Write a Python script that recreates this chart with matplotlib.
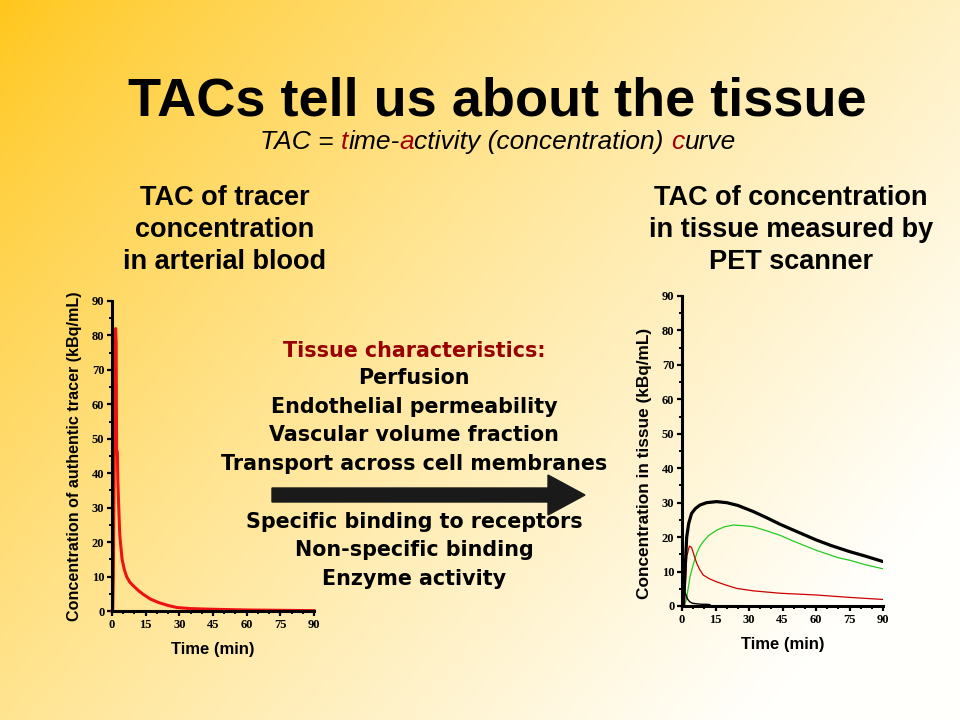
import numpy as np
import matplotlib
matplotlib.use("Agg")
import matplotlib.pyplot as plt
from matplotlib.patches import FancyArrow
from matplotlib.ticker import MultipleLocator

# ---------------- data ----------------
# arterial blood TAC (left panel)
t_blood = [0, 0.3, 0.6, 1.0, 1.4, 1.6, 1.85, 1.95, 2.05, 2.4, 2.6, 2.9, 3.4, 3.6,
           4.5, 5.5, 6.5, 8, 10, 12, 14, 17, 21, 25, 29, 35, 45, 60, 75, 90]
c_blood = [0, 0, 10, 45, 75, 82, 78, 60, 47, 46, 38, 32, 23, 21,
           15, 12, 10, 8.3, 7, 5.8, 4.8, 3.5, 2.4, 1.6, 1.0, 0.7, 0.5, 0.3, 0.2, 0.1]

# tissue TAC (right panel)
t_total = [0, 0.5, 1, 1.5, 2.1, 3, 4.3, 6, 8, 11, 15.5, 20, 25, 32, 38, 44,
           50, 60, 67, 75, 82, 90]
c_total = [0, 0, 5, 12, 20, 24, 26.9, 28.3, 29.3, 30, 30.3, 30, 29.2, 27.4, 25.6, 23.7,
           22, 19.2, 17.5, 15.8, 14.5, 12.9]

t_green = [0, 1, 2, 3.6, 5, 6.6, 8, 9.5, 12, 15.5, 19, 23, 28, 32, 38, 44,
           50, 60, 70, 75, 82, 90]
c_green = [0, 0, 2, 8.5, 12, 15.3, 17.3, 18.7, 20.5, 22, 23, 23.5, 23.3, 23, 21.8, 20.5,
           18.8, 16.2, 14, 13.3, 12, 10.8]

t_red = [0, 1.1, 2.1, 3.3, 4.3, 5.5, 6.6, 8, 9.5, 12, 15.5, 20, 24.5, 32, 44, 60, 75, 90]
c_red = [0, 0, 14.3, 17.4, 17, 14.5, 12.4, 10.5, 9, 8, 7, 6, 5.1, 4.4, 3.7, 3.2, 2.5, 1.9]

t_vasc = [0, 0.3, 0.7, 1.2, 1.8, 2.5, 3.5, 4.7, 7, 9, 11, 12.5]
c_vasc = [0, 0, 3.7, 4.0, 3.2, 2.0, 1.2, 0.8, 0.6, 0.5, 0.5, 0.4]

title = "TACs tell us about the tissue"
subtitle = "TAC = time-activity (concentration) curve"
subtitle_red = [6, 11, 36]   # indices of the red letters t, a, c
left_head = ["TAC of tracer", "concentration", "in arterial blood"]
right_head = ["TAC of concentration", "in tissue measured by", "PET scanner"]
tissue_head = "Tissue characteristics:"
tissue_top = ["Perfusion", "Endothelial permeability", "Vascular volume fraction",
              "Transport across cell membranes"]
tissue_bottom = ["Specific binding to receptors", "Non-specific binding", "Enzyme activity"]

# ---------------- fonts ----------------
sans = ["Liberation Sans", "DejaVu Sans"]
serif = ["Liberation Serif", "DejaVu Serif"]
DARKRED = "#a00000"

fig = plt.figure(figsize=(9.6, 7.2), dpi=100)

# background gradient, pixel coordinates
bg = fig.add_axes([0, 0, 1, 1])
yy, xx = np.mgrid[0:720, 0:960]
t = np.clip(xx / 960 * 0.7 + yy / 720 * 0.45, 0, 1) ** 0.8
c0 = np.array([255, 198, 25]) / 255
c1 = np.array([255, 255, 252]) / 255
img = c0[None, None, :] * (1 - t[..., None]) + c1[None, None, :] * t[..., None]
bg.imshow(img, extent=(0, 960, 720, 0), aspect="auto", zorder=0)
bg.set_xlim(0, 960)
bg.set_ylim(720, 0)
bg.axis("off")

# title + subtitle
bg.text(497, 116, title, ha="center", va="baseline", fontsize=39, fontweight="bold",
        family=sans, color="black")

# subtitle with three red letters: measure prefixes to place pieces
sub_kw = dict(fontsize=19, style="italic", family=sans, va="baseline")
renderer = fig.canvas.get_renderer()


def text_width(s):
    tt = bg.text(0, 0, s, **sub_kw)
    w = tt.get_window_extent(renderer).width
    tt.remove()
    return w


full_w = text_width(subtitle)
x0 = 498 - full_w / 2
cuts = [0]
for k in subtitle_red:
    cuts += [k, k + 1]
cuts.append(len(subtitle))
for a, b in zip(cuts[:-1], cuts[1:]):
    if a == b:
        continue
    piece = subtitle[a:b]
    xs = x0 + text_width(subtitle[:a + 1]) - text_width(subtitle[a])
    col = DARKRED if a in subtitle_red else "black"
    bg.text(xs, 149, piece, color=col, **sub_kw)

# column headers
for i, (l, r) in enumerate(zip(left_head, right_head)):
    y = 198 + 32 * i
    bg.text(225, y, l, ha="center", va="center", fontsize=19.5, fontweight="bold", family=sans)
    bg.text(791, y, r, ha="center", va="center", fontsize=19.5, fontweight="bold", family=sans)

# middle list
mid_kw = dict(ha="center", va="center", fontsize=14.9, fontweight="bold", family=["DejaVu Sans"])
bg.text(414, 351, tissue_head, color="#990000", **mid_kw)
for i, s in enumerate(tissue_top):
    bg.text(414, 378 + 28.7 * i, s, color="black", **mid_kw)
for i, s in enumerate(tissue_bottom):
    bg.text(414, 522 + 28.5 * i, s, color="black", **mid_kw)

bg.add_patch(FancyArrow(272, 495, 313, 0, width=14, head_width=40, head_length=37,
                        length_includes_head=True, color="#1a1a1a", zorder=3))


def style_axes(ax, ylabel, ylab_size, ylab_x, ylab_y, xlab_y):
    ax.set_facecolor("none")
    ax.set_xlim(0, 90)
    ax.set_ylim(0, 90)
    for s in ["top", "right"]:
        ax.spines[s].set_visible(False)
    for s in ["left", "bottom"]:
        ax.spines[s].set_linewidth(2.2)
    ax.xaxis.set_major_locator(MultipleLocator(15))
    ax.xaxis.set_minor_locator(MultipleLocator(5))
    ax.yaxis.set_major_locator(MultipleLocator(10))
    ax.yaxis.set_minor_locator(MultipleLocator(5))
    ax.tick_params(which="major", length=3.5, width=1.6, pad=2)
    ax.tick_params(which="minor", length=2.5, width=1.4)
    for lab in ax.get_xticklabels() + ax.get_yticklabels():
        lab.set_family(serif)
        lab.set_fontweight("bold")
        lab.set_fontsize(9)
    ax.set_ylabel(ylabel, family=sans, fontweight="bold", fontsize=ylab_size)
    ax.set_xlabel("Time (min)", family=sans, fontweight="bold", fontsize=12)
    ax.yaxis.set_label_coords(ylab_x, ylab_y)
    ax.xaxis.set_label_coords(0.5, xlab_y)


# left panel: arterial blood
ax1 = fig.add_axes([112 / 960, 109 / 720, 202 / 960, 310 / 720])
ax1.plot(t_blood, c_blood, color="#ee1111", lw=2.2, clip_on=False)
style_axes(ax1, "Concentration of authentic tracer (kBq/mL)", 11.6, -0.15, 0.5, -0.1)

# right panel: tissue
ax2 = fig.add_axes([682 / 960, 114 / 720, 201 / 960, 310 / 720])
ax2.plot(t_green, c_green, color="#22cc22", lw=0.9)
ax2.plot(t_red, c_red, color="#cc0000", lw=0.9)
ax2.plot(t_vasc, c_vasc, color="black", lw=1.0)
ax2.plot(t_total, c_total, color="black", lw=2.3)
style_axes(ax2, "Concentration in tissue (kBq/mL)", 12.4, -0.15, 0.46, -0.1)

fig.savefig("out.png", dpi=100)
